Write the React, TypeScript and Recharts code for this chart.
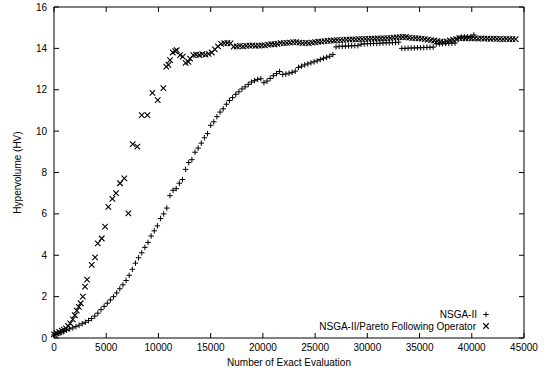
import React from "react";
import {
  ScatterChart,
  Scatter,
  XAxis,
  YAxis,
  ReferenceArea,
} from "recharts";

// NSGA-II ("+")
const nsgaEvals = [
  0, 300, 600, 900, 1200, 1500, 1800, 2100, 2400, 2700, 3000, 3300, 3600,
  3900, 4200, 4500, 4800, 5100, 5400, 5700, 6000, 6300, 6600, 6900, 7200,
  7500, 7800, 8100, 8400, 8700, 9000, 9300, 9600, 9900, 10200, 10500, 10800,
  11100, 11400, 11700, 12000, 12300, 12600, 12900, 13200, 13500, 13800, 14100,
  14400, 14700, 15000, 15300, 15600, 15900, 16200, 16500, 16800, 17100, 17400,
  17700, 18000, 18300, 18600, 18900, 19200, 19500, 19800, 20100, 20400, 20700,
  21000, 21300, 21600, 21900, 22200, 22500, 22800, 23100, 23400, 23700, 24000,
  24300, 24600, 24900, 25200, 25500, 25800, 26100, 26400, 26700, 27000, 27300,
  27600, 27900, 28200, 28500, 28800, 29100, 29400, 29700, 30000, 30300, 30600,
  30900, 31200, 31500, 31800, 32100, 32400, 32700, 33000, 33300, 33600, 33900,
  34200, 34500, 34800, 35100, 35400, 35700, 36000, 36300, 36600, 36900, 37200,
  37500, 37800, 38100, 38400, 38700, 39000, 39300, 39600, 39900, 40200,
];
const nsgaHv = [
  0.15, 0.2, 0.25, 0.31, 0.38, 0.44, 0.49, 0.55, 0.62, 0.69, 0.76, 0.84, 0.94,
  1.06, 1.2, 1.37, 1.53, 1.68, 1.84, 2.0, 2.18, 2.38, 2.57, 2.78, 3.03,
  3.32, 3.62, 3.88, 4.12, 4.38, 4.62, 4.93, 5.18, 5.42, 5.78, 6.0, 6.28,
  6.88, 7.14, 7.22, 7.48, 7.66, 8.15, 8.48, 8.62, 8.98, 9.18, 9.42,
  9.68, 9.88, 10.28, 10.45, 10.7, 10.92, 11.08, 11.3, 11.48, 11.62, 11.78,
  11.9, 12.04, 12.14, 12.26, 12.37, 12.44, 12.5, 12.53, 12.34, 12.42, 12.55,
  12.68, 12.78, 12.88, 12.74, 12.76, 12.8, 12.84, 12.9, 13.08, 13.14, 13.2,
  13.25, 13.3, 13.35, 13.4, 13.46, 13.52, 13.57, 13.62, 13.7, 14.07, 14.1,
  14.1, 14.11, 14.12, 14.12, 14.13, 14.13, 14.2, 14.22, 14.23, 14.23, 14.24,
  14.24, 14.25, 14.26, 14.27, 14.27, 14.28, 14.28, 14.3, 14.0, 14.0, 14.01,
  14.02, 14.02, 14.03, 14.03, 14.04, 14.05, 14.05, 14.06, 14.22, 14.22, 14.23,
  14.24, 14.24, 14.25, 14.26, 14.5, 14.55, 14.55, 14.56, 14.57, 14.65,
];

// NSGA-II/Pareto Following Operator ("x")
const pfoEvals = [
  0, 250, 500, 750, 950, 1150, 1350, 1550, 1800, 2000, 2180, 2380, 2560, 2760,
  2970, 3170, 3610, 3930, 4190, 4570, 4890, 5200, 5590, 5940, 6320, 6730,
  7120, 7540, 7980, 8400, 8940, 9420, 9930, 10470, 10750, 10950, 11110, 11370,
  11600, 11750, 12070, 12330, 12600, 12870, 13030, 13340, 13600, 13900, 14200,
  14500, 14800, 15100, 15400, 15700, 16000, 16300, 16600, 16900, 17200, 17500,
  17800, 18100, 18400, 18700, 19000, 19300, 19600, 19900, 20200, 20500, 20800,
  21100, 21400, 21700, 22000, 22300, 22600, 22900, 23200, 23500, 23800, 24100,
  24400, 24700, 25000, 25300, 25600, 25900, 26200, 26500, 26800, 27100, 27400,
  27700, 28000, 28300, 28600, 28900, 29200, 29500, 29800, 30100, 30400, 30700,
  31000, 31300, 31600, 31900, 32200, 32500, 32800, 33100, 33400, 33700, 34000,
  34300, 34600, 34900, 35200, 35500, 35800, 36100, 36400, 36700, 37000, 37300,
  37600, 37900, 38200, 38500, 38800, 39100, 39400, 39700, 40000, 40300, 40600,
  40900, 41200, 41500, 41800, 42100, 42400, 42700, 43000, 43300, 43600, 43900,
  44200,
];
const pfoHv = [
  0.18, 0.23, 0.29, 0.35, 0.41, 0.47, 0.58, 0.71, 0.9, 1.1, 1.32, 1.5, 1.68, 2.0,
  2.48, 2.82, 3.53, 3.9, 4.57, 4.81, 5.38, 6.34, 6.72, 7.0, 7.48, 7.72,
  6.02, 9.37, 9.25, 10.77, 10.77, 11.85, 11.5, 12.08, 13.12, 13.2, 13.43, 13.8,
  13.87, 13.92, 13.67, 13.6, 13.3, 13.35, 13.5, 13.67, 13.7, 13.68, 13.72,
  13.7, 13.73, 13.8, 13.95, 14.1, 14.22, 14.25, 14.26, 14.24, 14.08, 14.1,
  14.12, 14.1, 14.12, 14.13, 14.15, 14.12, 14.13, 14.15, 14.15, 14.18, 14.2,
  14.2, 14.22, 14.25, 14.25, 14.27, 14.28, 14.3, 14.3, 14.28, 14.25, 14.27,
  14.25, 14.28, 14.3, 14.32, 14.33, 14.35, 14.36, 14.37, 14.38, 14.4, 14.4,
  14.4, 14.42, 14.42, 14.43, 14.44, 14.45, 14.45, 14.46, 14.46, 14.47, 14.47,
  14.48, 14.48, 14.48, 14.5, 14.5, 14.52, 14.53, 14.54, 14.55, 14.55, 14.52,
  14.5, 14.5, 14.48, 14.47, 14.45, 14.42, 14.4, 14.38, 14.35, 14.32, 14.3,
  14.34, 14.38, 14.42, 14.45, 14.5, 14.5, 14.49, 14.5, 14.48, 14.48, 14.47,
  14.48, 14.47, 14.47, 14.46, 14.47, 14.46, 14.46, 14.45, 14.46, 14.45, 14.45,
  14.45,
];

const xTicks = [0, 5000, 10000, 15000, 20000, 25000, 30000, 35000, 40000, 45000];
const yTicks = [0, 2, 4, 6, 8, 10, 12, 14, 16];

const W = 546;
const H = 373;
const PLOT_L = 54;
const PLOT_R = 524;
const PLOT_T = 7;
const PLOT_B = 338;
const FONT = "'Liberation Sans', Arial, Helvetica, sans-serif";

const nsgaData = nsgaEvals.map((x, i) => ({ x, y: nsgaHv[i] }));
const pfoData = pfoEvals.map((x, i) => ({ x, y: pfoHv[i] }));

const PlusMark = (props: any) => {
  const { cx, cy } = props;
  return (
    <path
      d={`M${cx - 2.75},${cy}h5.5M${cx},${cy - 2.75}v5.5`}
      stroke="#000"
      strokeWidth={1}
      fill="none"
    />
  );
};

const CrossMark = (props: any) => {
  const { cx, cy } = props;
  return (
    <path
      d={`M${cx - 2.75},${cy - 2.75}l5.5,5.5M${cx - 2.75},${cy + 2.75}l5.5,-5.5`}
      stroke="#000"
      strokeWidth={1.1}
      fill="none"
    />
  );
};

const XTick = (props: any) => {
  const { x, payload } = props;
  return (
    <g>
      <line x1={x} x2={x} y1={PLOT_B} y2={PLOT_B - 5} stroke="#000" />
      <line x1={x} x2={x} y1={PLOT_T} y2={PLOT_T + 5} stroke="#000" />
      <text
        x={x}
        y={PLOT_B + 13}
        textAnchor="middle"
        fontSize={10}
        fontFamily={FONT}
        fill="#000"
      >
        {payload.value}
      </text>
    </g>
  );
};

const YTick = (props: any) => {
  const { y, payload } = props;
  return (
    <g>
      <line x1={PLOT_L} x2={PLOT_L + 5} y1={y} y2={y} stroke="#000" />
      <line x1={PLOT_R} x2={PLOT_R - 5} y1={y} y2={y} stroke="#000" />
      <text
        x={PLOT_L - 7}
        y={y + 3.5}
        textAnchor="end"
        fontSize={10}
        fontFamily={FONT}
        fill="#000"
      >
        {payload.value}
      </text>
    </g>
  );
};

export default function App() {
  return (
    <div
      style={{
        position: "absolute",
        left: 0,
        top: 0,
        width: W,
        height: H,
        background: "#fff",
      }}
    >
      <ScatterChart
        width={W}
        height={H}
        margin={{ top: PLOT_T, right: W - PLOT_R, left: 4, bottom: 5 }}
      >
        <XAxis
          type="number"
          dataKey="x"
          domain={[0, 45000]}
          ticks={xTicks}
          height={H - PLOT_B - 5}
          axisLine={false}
          tickLine={false}
          tick={<XTick />}
          interval={0}
        />
        <YAxis
          type="number"
          dataKey="y"
          domain={[0, 16]}
          ticks={yTicks}
          width={PLOT_L - 4}
          axisLine={false}
          tickLine={false}
          tick={<YTick />}
          interval={0}
        />
        <ReferenceArea
          x1={0}
          x2={45000}
          y1={0}
          y2={16}
          fill="none"
          stroke="#000"
          strokeWidth={1}
          ifOverflow="visible"
        />
        <Scatter
          name="NSGA-II"
          data={nsgaData}
          shape={PlusMark}
          isAnimationActive={false}
        />
        <Scatter
          name="NSGA-II/Pareto Following Operator"
          data={pfoData}
          shape={CrossMark}
          isAnimationActive={false}
        />
      </ScatterChart>
      <svg
        width={W}
        height={H}
        style={{ position: "absolute", left: 0, top: 0, pointerEvents: "none" }}
        fontFamily={FONT}
        fontSize={10}
      >
        <text x={(PLOT_L + PLOT_R) / 2} y={366} textAnchor="middle" fill="#000">
          Number of Exact Evaluation
        </text>
        <text
          x={0}
          y={0}
          textAnchor="middle"
          fill="#000"
          transform={`translate(21, ${(PLOT_T + PLOT_B) / 2}) rotate(-90)`}
        >
          Hypervolume (HV)
        </text>
        <text x={477} y={318} textAnchor="end" fill="#000">
          NSGA-II
        </text>
        <PlusMark cx={486} cy={314.5} />
        <text x={476} y={329.5} textAnchor="end" fill="#000">
          NSGA-II/Pareto Following Operator
        </text>
        <CrossMark cx={486} cy={326} />
      </svg>
    </div>
  );
}
